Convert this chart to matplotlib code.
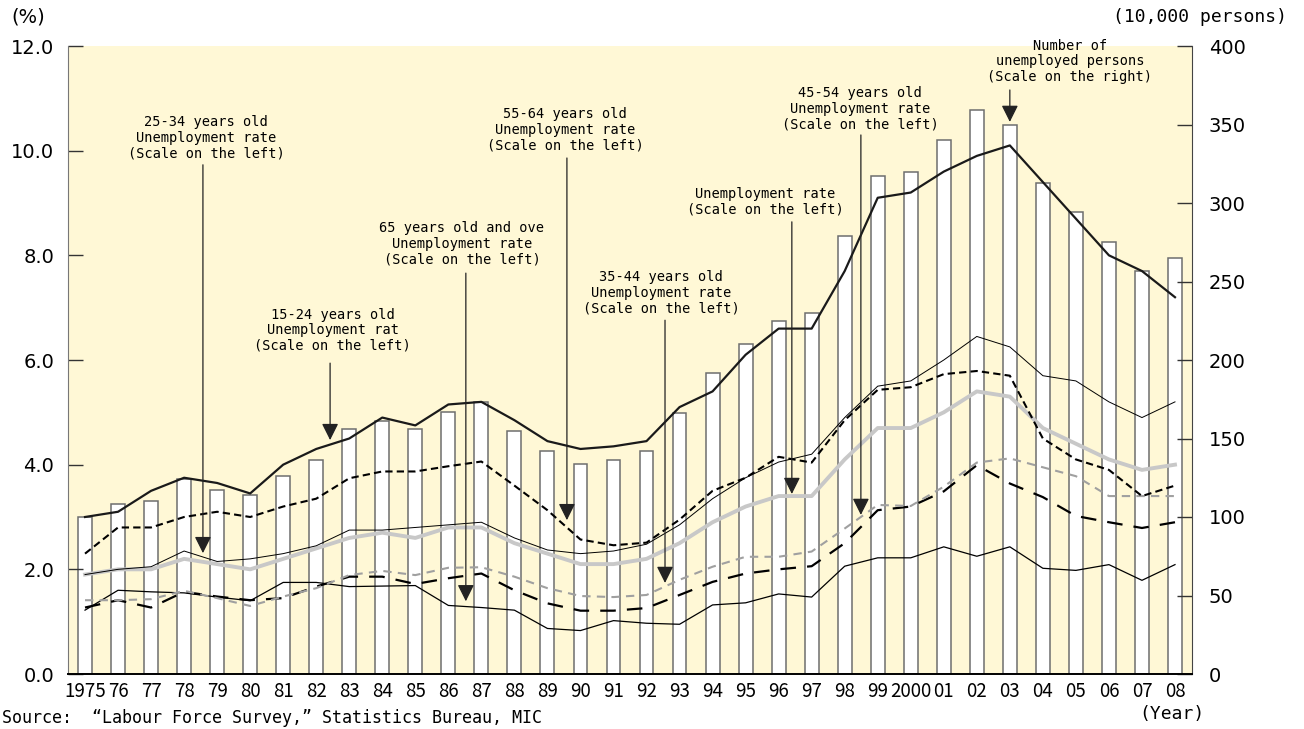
import matplotlib
matplotlib.use('Agg')
import matplotlib.pyplot as plt
from matplotlib import font_manager

years = list(range(1975, 2009))
year_labels = ['1975'] + ['%02d' % (y % 100) for y in range(1976, 2000)] + ['2000'] + ['%02d' % (y % 100) for y in range(2001, 2009)]

# number of unemployed persons (10,000 persons, right scale)
unemployed = [100, 108, 110, 124, 117, 114, 126, 136, 156, 161, 156, 167, 173, 155, 142, 134, 136,
              142, 166, 192, 210, 225, 230, 279, 317, 320, 340, 359, 350, 313, 294, 275, 257, 265]
# unemployment rates (%), left scale
rate_total = [1.9, 2.0, 2.0, 2.2, 2.1, 2.0, 2.2, 2.4, 2.6, 2.7, 2.6, 2.8, 2.8, 2.5, 2.3, 2.1, 2.1,
              2.2, 2.5, 2.9, 3.2, 3.4, 3.4, 4.1, 4.7, 4.7, 5.0, 5.4, 5.3, 4.7, 4.4, 4.1, 3.9, 4.0]
rate_15_24 = [3.0, 3.1, 3.5, 3.75, 3.65, 3.45, 4.0, 4.3, 4.5, 4.9, 4.75, 5.15, 5.2, 4.85, 4.45, 4.3, 4.35,
              4.45, 5.1, 5.4, 6.1, 6.6, 6.6, 7.7, 9.1, 9.2, 9.6, 9.9, 10.1, 9.4, 8.7, 8.0, 7.7, 7.2]
rate_25_34 = [1.9, 2.0, 2.05, 2.35, 2.15, 2.2, 2.3, 2.45, 2.75, 2.75, 2.8, 2.85, 2.9, 2.6, 2.37, 2.3, 2.35,
              2.48, 2.85, 3.35, 3.75, 4.05, 4.2, 4.9, 5.5, 5.6, 6.0, 6.45, 6.25, 5.7, 5.6, 5.2, 4.9, 5.2]
rate_55_64 = [2.3, 2.8, 2.8, 3.0, 3.1, 3.0, 3.2, 3.35, 3.74, 3.87, 3.87, 3.97, 4.06, 3.6, 3.13, 2.57, 2.46,
              2.51, 2.95, 3.5, 3.75, 4.15, 4.04, 4.85, 5.43, 5.48, 5.73, 5.79, 5.7, 4.5, 4.1, 3.9, 3.4, 3.6]
rate_35_44 = [1.41, 1.41, 1.43, 1.59, 1.45, 1.30, 1.48, 1.64, 1.89, 1.97, 1.89, 2.03, 2.04, 1.86, 1.64, 1.49, 1.47,
              1.51, 1.8, 2.05, 2.24, 2.24, 2.34, 2.78, 3.23, 3.21, 3.58, 4.04, 4.12, 3.95, 3.78, 3.4, 3.4, 3.4]
rate_45_54 = [1.27, 1.41, 1.27, 1.57, 1.48, 1.41, 1.45, 1.67, 1.86, 1.86, 1.72, 1.83, 1.92, 1.6, 1.35, 1.21, 1.21,
              1.26, 1.51, 1.76, 1.92, 2.0, 2.06, 2.5, 3.13, 3.2, 3.49, 3.99, 3.64, 3.38, 3.02, 2.9, 2.79, 2.9]
rate_65_over = [1.22, 1.6, 1.57, 1.55, 1.47, 1.40, 1.75, 1.75, 1.67, 1.68, 1.69, 1.31, 1.27, 1.22, 0.87, 0.83, 1.02,
                0.97, 0.95, 1.32, 1.36, 1.53, 1.47, 2.06, 2.22, 2.22, 2.43, 2.25, 2.43, 2.02, 1.98, 2.09, 1.79, 2.09]


def pick(names):
    for n in names:
        try:
            font_manager.findfont(n, fallback_to_default=False)
            return n
        except Exception:
            pass
    return 'DejaVu Sans'


num_font = pick(['Liberation Sans Narrow', 'DejaVu Sans Condensed', 'Noto Sans CJK JP'])
mono = 'DejaVu Sans Mono'
bg = '#FFF8D6'

fig = plt.figure(figsize=(13.04, 7.29), dpi=100)
ax = fig.add_axes([68 / 1304, 1 - 674 / 729, (1192 - 68) / 1304, (674 - 46) / 729])
ax2 = ax.twinx()
ax.set_zorder(ax2.get_zorder() + 1)
ax.patch.set_visible(False)
ax2.patch.set_visible(True)
ax2.patch.set_facecolor(bg)

# bars: unemployed persons (right scale)
ax2.bar(years, unemployed, width=0.42, color='white', edgecolor='#6e6e6e', linewidth=1.1, zorder=1)
ax2.set_ylim(0, 400)
ax2.set_yticks(range(0, 401, 50))

# lines: unemployment rates (left scale)
ax.plot(years, rate_65_over, color='black', lw=0.9, zorder=3)
ax.plot(years, rate_45_54, color='black', lw=1.6, dashes=(7, 5), zorder=3)
ax.plot(years, rate_35_44, color='#a0a0a0', lw=1.5, dashes=(4, 3), zorder=3)
ax.plot(years, rate_total, color='#c8c8c8', lw=2.8, zorder=3)
ax.plot(years, rate_25_34, color='black', lw=0.7, zorder=4)
ax.plot(years, rate_55_64, color='black', lw=1.5, dashes=(3.5, 2), zorder=4)
ax.plot(years, rate_15_24, color='#1a1a1a', lw=1.6, zorder=4)

ax.set_xlim(1974.485, 2008.515)
ax.set_ylim(0, 12)
ax.set_yticks([0, 2, 4, 6, 8, 10, 12])
ax.set_yticklabels(['%.1f' % v for v in [0, 2, 4, 6, 8, 10, 12]], fontsize=14, family='DejaVu Sans')
ax.set_xticks(years)
ax.set_xticklabels(year_labels, fontsize=13.5, family=num_font)
ax.tick_params(axis='x', length=0, pad=5)
ax.tick_params(axis='y', direction='in', length=11, width=1, color='#333333', pad=10)
ax2.tick_params(axis='y', direction='in', length=11, width=1, color='#333333', pad=12, labelsize=14)

for s in ['top', 'right']:
    ax.spines[s].set_visible(False)
ax.spines['left'].set_color('#777777')
ax.spines['bottom'].set_color('black')
ax.spines['bottom'].set_linewidth(1.4)
for s in ['top', 'left', 'bottom']:
    ax2.spines[s].set_visible(False)
ax2.spines['right'].set_color('#444444')

# annotations: text block centre, arrow x, arrow start y, arrow tip y
notes = [
    ('25-34 years old\nUnemployment rate\n(Scale on the left)', 1978.66, 10.24, 1978.57, 9.73, 2.31),
    ('15-24 years old\nUnemployment rat\n(Scale on the left)', 1982.5, 6.57, 1982.42, 5.94, 4.47),
    ('65 years old and ove\nUnemployment rate\n(Scale on the left)', 1986.41, 8.22, 1986.53, 7.66, 1.39),
    ('55-64 years old\nUnemployment rate\n(Scale on the left)', 1989.53, 10.4, 1989.59, 9.86, 2.94),
    ('35-44 years old\nUnemployment rate\n(Scale on the left)', 1992.44, 7.28, 1992.56, 6.76, 1.74),
    ('Unemployment rate\n(Scale on the left)', 1995.59, 9.02, 1996.4, 8.64, 3.44),
    ('45-54 years old\nUnemployment rate\n(Scale on the left)', 1998.46, 10.8, 1998.49, 10.3, 3.04),
    ('Number of\nunemployed persons\n(Scale on the right)', 2004.82, 11.71, 2003.0, 11.16, 10.55),
]
for txt, tx, ty, axx, y0, y1 in notes:
    ax.text(tx, ty, txt, ha='center', va='center', family=mono, fontsize=9.8,
            linespacing=1.15, zorder=6, clip_on=False)
    ax.annotate('', xy=(axx, y1), xytext=(axx, y0), zorder=5,
                arrowprops=dict(arrowstyle='-|>,head_length=0.6,head_width=0.3', mutation_scale=17,
                                color='#222222', lw=0.9, shrinkA=0, shrinkB=0))

fig.text(28 / 1304, 1 - 17 / 729, '(%)', ha='center', va='center', family='DejaVu Sans', fontsize=14)
fig.text(1287 / 1304, 1 - 17 / 729, '(10,000 persons)', ha='right', va='center', family=mono, fontsize=13)
fig.text(1172 / 1304, 1 - 714 / 729, '(Year)', ha='center', va='center', family=mono, fontsize=13)
fig.text(2 / 1304, 2 / 729, 'Source:  \u201cLabour Force Survey,\u201d Statistics Bureau, MIC',
         ha='left', va='bottom', family=mono, fontsize=12)

plt.savefig('out.png', dpi=100)
